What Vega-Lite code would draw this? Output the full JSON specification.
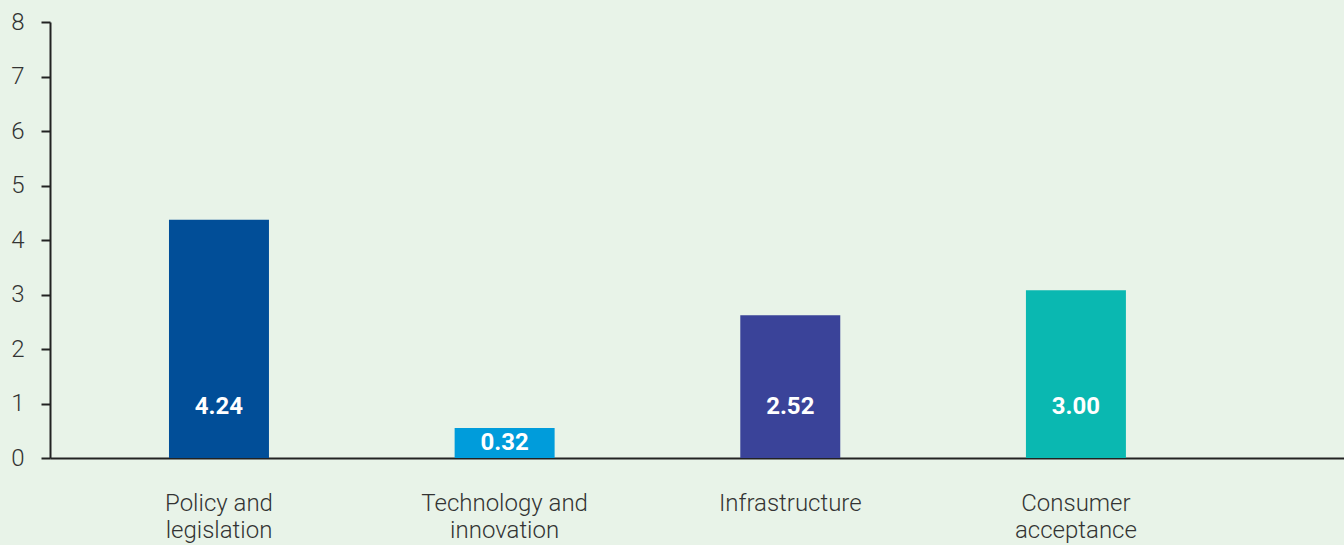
{
  "$schema": "https://vega.github.io/schema/vega-lite/v6.json",
  "autosize": {"type": "none"},
  "padding": {"left": 50, "top": 22, "right": 0, "bottom": 87},
  "width": 1294,
  "height": 436,
  "background": "#e8f3e8",
  "config": {"view": {"stroke": null}, "font": "Roboto"},
  "data": {"values": [
    {"category": "Policy and legislation", "value": 4.24, "bar": 4.37},
    {"category": "Technology and innovation", "value": 0.32, "bar": 0.55},
    {"category": "Infrastructure", "value": 2.52, "bar": 2.62},
    {"category": "Consumer acceptance", "value": 3.00, "bar": 3.08}
  ]},
  "encoding": {
    "x": {
      "field": "category", "type": "nominal", "sort": null,
      "scale": {"paddingInner": 0.65, "paddingOuter": 0.59, "align": 0.353},
      "axis": {
        "title": null, "labelAngle": 0, "ticks": false,
        "domainColor": "#222", "domainWidth": 2,
        "labelFontSize": 24, "labelFontWeight": 300, "labelColor": "#333",
        "labelPadding": 45, "labelBaseline": "middle", "labelLineHeight": 27,
        "labelExpr": "datum.value == 'Policy and legislation' ? ['Policy and', 'legislation'] : datum.value == 'Technology and innovation' ? ['Technology and', 'innovation'] : datum.value == 'Consumer acceptance' ? ['Consumer', 'acceptance'] : datum.value"
      }
    }
  },
  "layer": [
    {
      "mark": {"type": "bar"},
      "encoding": {
        "y": {
          "field": "bar", "type": "quantitative",
          "scale": {"domain": [0, 8], "nice": false},
          "axis": {
            "title": null, "values": [0,1,2,3,4,5,6,7,8], "grid": false,
            "domainColor": "#222", "domainWidth": 2,
            "tickColor": "#222", "tickWidth": 2, "tickSize": 9,
            "labelFontSize": 24, "labelFontWeight": 300, "labelColor": "#333",
            "labelPadding": 17
          }
        },
        "color": {
          "field": "category", "type": "nominal", "legend": null,
          "scale": {
            "domain": ["Policy and legislation", "Technology and innovation", "Infrastructure", "Consumer acceptance"],
            "range": ["#014e98", "#009cdb", "#3a4399", "#0ab8b1"]
          }
        }
      }
    },
    {
      "transform": [{"filter": "datum.value > 1"}],
      "mark": {"type": "text", "color": "white", "fontWeight": "bold", "fontSize": 24, "baseline": "middle", "font": "Roboto"},
      "encoding": {
        "y": {"datum": 0.93, "type": "quantitative"},
        "text": {"field": "value", "type": "quantitative", "format": ".2f"}
      }
    },
    {
      "transform": [{"filter": "datum.value <= 1"}],
      "mark": {"type": "text", "color": "white", "fontWeight": "bold", "fontSize": 24, "baseline": "middle", "font": "Roboto"},
      "encoding": {
        "y": {"datum": 0.27, "type": "quantitative"},
        "text": {"field": "value", "type": "quantitative", "format": ".2f"}
      }
    }
  ]
}
